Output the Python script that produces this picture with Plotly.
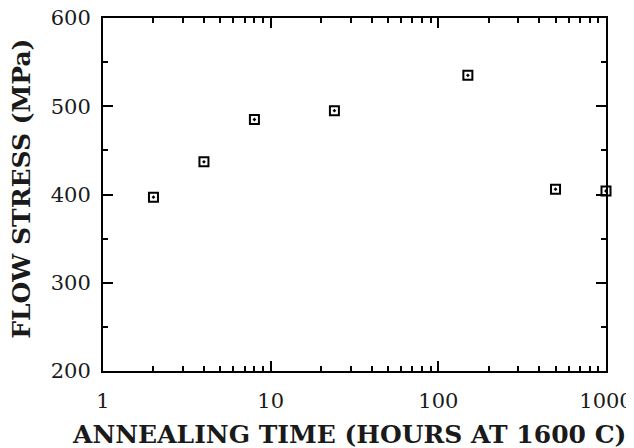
import plotly.graph_objects as go

annealing_hours = [2, 4, 8, 24, 150, 500, 1000]
flow_stress_mpa = [397, 437, 485, 495, 535, 406, 404]
x_tick_vals = [1, 10, 100, 1000]
x_tick_text = ["1", "10", "100", "1000"]
y_tick_vals = [200, 300, 400, 500, 600]
x_title = "ANNEALING TIME (HOURS AT 1600 C)"
y_title = "FLOW STRESS (MPa)"

fig = go.Figure()
fig.add_trace(go.Scatter(
    x=annealing_hours, y=flow_stress_mpa, mode="markers",
    marker=dict(symbol="square-open-dot", size=9, color="black",
                line=dict(width=2, color="black")),
    cliponaxis=False, showlegend=False,
))

tick_family = "DejaVu Serif, serif"
title_family = "DejaVu Serif, serif"
# page body has an 8px margin, so the figure is 16px smaller than the window
fig.update_layout(
    width=626, height=440,
    margin=dict(l=95, r=28, t=10, b=77, autoexpand=False),
    paper_bgcolor="white", plot_bgcolor="white",
    font=dict(family=tick_family, color="#1a1a1a", size=21),
)
axis_common = dict(
    ticks="inside", ticklen=10, tickwidth=1.5, tickcolor="black",
    showline=True, linewidth=2, linecolor="black", mirror="ticks",
    showgrid=False, zeroline=False, automargin=False,
    ticklabeloverflow="allow",
    tickfont=dict(size=21, family=tick_family, color="#1a1a1a"),
)
fig.update_xaxes(
    type="log", range=[0, 3],
    tickvals=x_tick_vals, ticktext=x_tick_text,
    ticklabelstandoff=10,
    minor=dict(ticks="inside", ticklen=5, tickwidth=1.5, tickcolor="black",
               dtick="D1", showgrid=False),
    **axis_common,
)
fig.update_yaxes(
    range=[200, 600],
    tickvals=y_tick_vals,
    ticklabelstandoff=6,
    minor=dict(ticks="inside", ticklen=5, tickwidth=1.5, tickcolor="black",
               dtick=50, showgrid=False),
    **axis_common,
)
fig.add_annotation(
    text="<b>" + x_title + "</b>", xref="paper", yref="paper",
    x=0.489, y=-0.181, xanchor="center", yanchor="middle", showarrow=False,
    font=dict(size=25, family=title_family, color="#1a1a1a"),
)
fig.add_annotation(
    text="<b>" + y_title + "</b>", xref="paper", yref="paper",
    x=-0.161, y=0.516, xanchor="center", yanchor="middle", showarrow=False,
    textangle=-90,
    font=dict(size=25, family=title_family, color="#1a1a1a"),
)

fig.write_html("out.html")
